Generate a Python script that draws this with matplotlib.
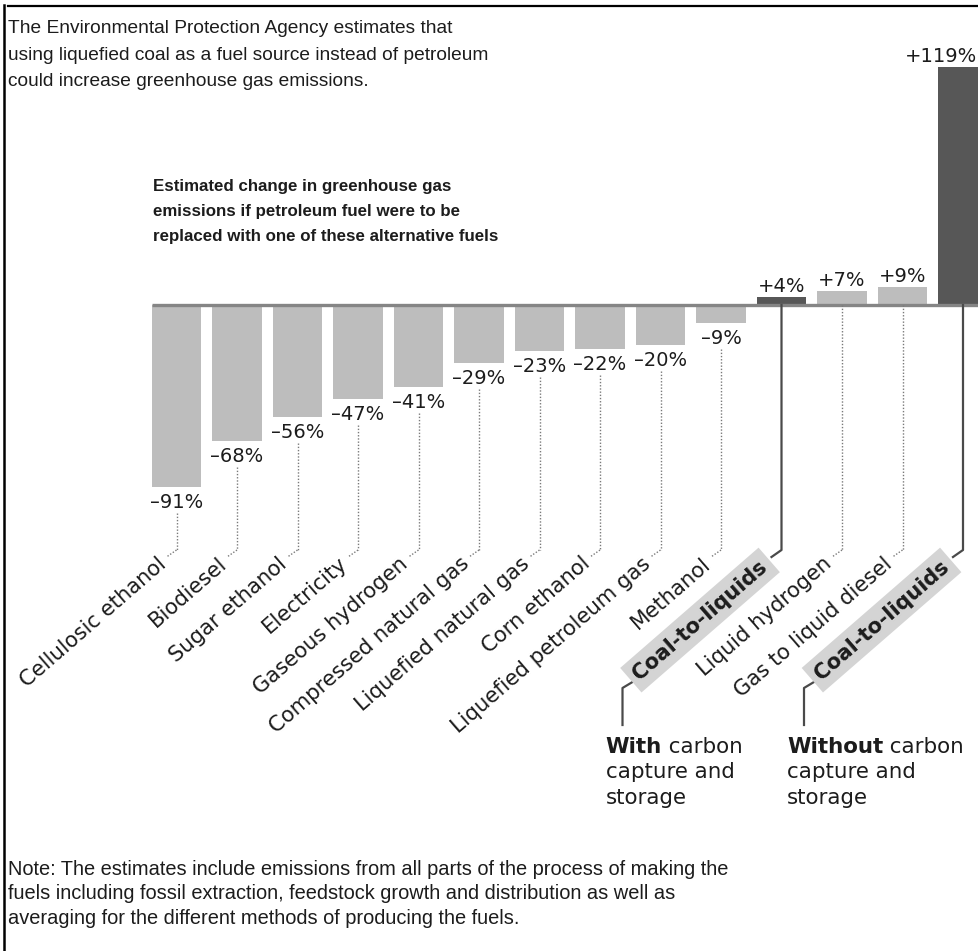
import matplotlib
matplotlib.use("Agg")
import matplotlib.pyplot as plt
from matplotlib.lines import Line2D

# ---- data -------------------------------------------------------------
categories = [
    "Cellulosic ethanol", "Biodiesel", "Sugar ethanol", "Electricity",
    "Gaseous hydrogen", "Compressed natural gas", "Liquefied natural gas",
    "Corn ethanol", "Liquefied petroleum gas", "Methanol", "Coal-to-liquids",
    "Liquid hydrogen", "Gas to liquid diesel", "Coal-to-liquids",
]
values = [-91, -68, -56, -47, -41, -29, -23, -22, -20, -9, 4, 7, 9, 119]
coal_flags = [False] * 10 + [True, False, False, True]
ccs_bold = ["With", "Without"]
ccs_rest = [" carbon", "capture and", "storage"]

title_lines = [
    "The Environmental Protection Agency estimates that",
    "using liquefied coal as a fuel source instead of petroleum",
    "could increase greenhouse gas emissions.",
]
subtitle_lines = [
    "Estimated change in greenhouse gas",
    "emissions if petroleum fuel were to be",
    "replaced with one of these alternative fuels",
]
note_lines = [
    "Note: The estimates include emissions from all parts of the process of making the",
    "fuels including fossil extraction, feedstock growth and distribution as well as",
    "averaging for the different methods of producing the fuels.",
]

# ---- styling ----------------------------------------------------------
W, H = 979, 951
LIGHT = "#bdbdbd"
DARK = "#575757"
INK = "#1c1c1c"
ANN = "DejaVu Sans"
HEAD = "Liberation Sans"

fig = plt.figure(figsize=(W / 100, H / 100), dpi=100)
ax = fig.add_axes([0, 0, 1, 1])

# pixel scale of the data axes: one category = 60.5 px, one percent = 2 px
X0, PX_CAT = 176.5, 60.5
Y0, PX_PCT = 305.0, 2.0
ax.set_xlim(-X0 / PX_CAT, (W - X0) / PX_CAT)
ax.set_ylim(-(H - Y0) / PX_PCT, Y0 / PX_PCT)
ax.axis("off")


def dx(px):
    return px / PX_CAT


def dy(px):
    return px / PX_PCT


def ypix(py):
    return (Y0 - py) / PX_PCT


def xpix(px):
    return (px - X0) / PX_CAT


def fx(px):
    return px / W


def fy(py):
    return 1 - py / H


xs = list(range(len(values)))
colors = [DARK if c else LIGHT for c in coal_flags]
bars = ax.bar(xs, values, width=0.81, color=colors, linewidth=0, zorder=2)

# baseline
ax.plot([xs[0] - 0.405, xs[-1] + 1], [0, 0], color="#858585", lw=2.4,
        solid_capstyle="butt", zorder=3)

label_turn = ypix(550)
label_end = ypix(557)
last = len(values) - 1
for i, (cat, v, coal) in enumerate(zip(categories, values, coal_flags)):
    txt = f"+{v}%" if v > 0 else f"\u2013{abs(v)}%"
    if v < 0:
        ax.text(i, v - dy(15), txt, ha="center", va="center", fontsize=14,
                family=ANN, color=INK)
        top = v - dy(26)
    elif i == last:
        # tallest bar sits at the right edge; keep its label inside
        ax.text(xpix(977), v + dy(10), txt, ha="right", va="center",
                fontsize=14, family=ANN, color=INK)
        top = 0
    else:
        ax.text(i, v + dy(10), txt, ha="center", va="center", fontsize=14,
                family=ANN, color=INK)
        top = 0
    if coal:
        ax.plot([i, i, i - dx(10)], [0, label_turn, label_end],
                color="#4a4a4a", lw=1.6, zorder=3)
        ax.text(i - dx(17), label_end - dy(7), cat, rotation=41,
                rotation_mode="anchor", ha="right", va="center",
                fontsize=15, fontweight="bold", family=ANN, color=INK,
                bbox=dict(boxstyle="square,pad=0.3", fc="#d4d4d4", ec="none"))
    else:
        ax.plot([i, i], [top, label_turn], color="#7a7a7a", lw=1.0,
                linestyle=(0, (1, 1.3)), zorder=3)
        ax.plot([i, i - dx(10)], [label_turn, label_end], color="#7a7a7a",
                lw=1.0, linestyle=(0, (1, 1.3)), zorder=3)
        ax.text(i - dx(13), label_end - dy(4), cat, rotation=41,
                rotation_mode="anchor", ha="right", va="center",
                fontsize=15.2, family=ANN, color=INK)

# connectors from the coal-to-liquids tags down to the storage notes
coal_idx = [i for i, c in enumerate(coal_flags) if c]
fig.canvas.draw()
renderer = fig.canvas.get_renderer()
for k, i in enumerate(coal_idx):
    ax.plot([i - dx(149), i - dx(159), i - dx(159)],
            [ypix(682), ypix(688), ypix(725)], color="#4a4a4a", lw=1.6)
    x_left = i - dx(176)
    b = ax.text(x_left, ypix(753), ccs_bold[k], ha="left", va="baseline",
                fontsize=15.4, fontweight="bold", family=ANN, color=INK)
    bb = b.get_window_extent(renderer)
    inv = ax.transData.inverted()
    x_after = inv.transform((bb.x1, bb.y0))[0]
    ax.text(x_after, ypix(753), ccs_rest[0], ha="left", va="baseline",
            fontsize=15.4, family=ANN, color=INK)
    ax.text(x_left, ypix(778.5), ccs_rest[1], ha="left", va="baseline",
            fontsize=15.4, family=ANN, color=INK)
    ax.text(x_left, ypix(804), ccs_rest[2], ha="left", va="baseline",
            fontsize=15.4, family=ANN, color=INK)

# headline, chart heading and note
for line, yb in zip(title_lines, [33, 60, 86]):
    fig.text(fx(8), fy(yb), line, ha="left", va="baseline", fontsize=13.8,
             family=HEAD, color=INK)
for line, yb in zip(subtitle_lines, [191, 216, 241]):
    fig.text(fx(153), fy(yb), line, ha="left", va="baseline", fontsize=12.2,
             family=HEAD, fontweight="bold", color=INK)
for line, yb in zip(note_lines, [875, 899, 924]):
    fig.text(fx(8), fy(yb), line, ha="left", va="baseline", fontsize=14.4,
             family=HEAD, color=INK)

# frame: rule along the top and the left side
fig.add_artist(Line2D([fx(8), 1], [fy(6), fy(6)], color="black", lw=1.6))
fig.add_artist(Line2D([fx(4), fx(4)], [fy(5), 0], color="black", lw=1.8))

fig.savefig("out.png", dpi=100, facecolor="white")
